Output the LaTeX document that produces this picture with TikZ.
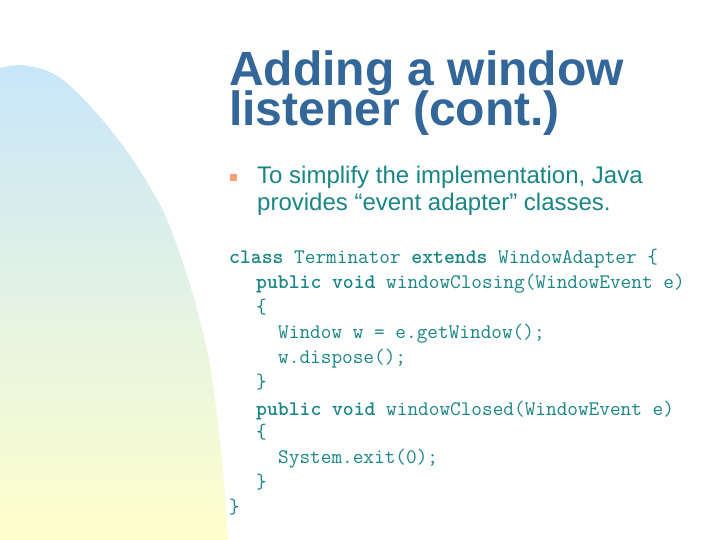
\documentclass[tikz,border=0pt]{standalone}
\usepackage{fontspec}
\setmainfont{Liberation Sans}
\definecolor{titleblue}{HTML}{336699}
\definecolor{bodyteal}{HTML}{1A8585}
\definecolor{bulletorange}{HTML}{F4A07A}
\definecolor{topblue}{HTML}{C8E6FA}
\definecolor{midcyan}{HTML}{DCF0F0}
\definecolor{botyellow}{HTML}{FFFFCC}
\begin{document}
\begin{tikzpicture}[x=1pt,y=-1pt,
  titletext/.style={anchor=base west,inner sep=0pt,text=titleblue,font=\fontsize{48}{40}\selectfont\bfseries},
  bodytext/.style={anchor=base west,inner sep=0pt,text=bodyteal,font=\fontsize{24}{27}\selectfont},
  codetext/.style={anchor=base west,inner sep=0pt,text=bodyteal,font=\fontsize{20.7}{25}\ttfamily},
  bulletbox/.style={fill=bulletorange,draw=none,minimum size=7pt,inner sep=0pt}]
\useasboundingbox (0,0) rectangle (720,540);
\fill[white] (0,0) rectangle (720,540);
% gradient backdrop
\shade[top color=topblue,middle color=midcyan,bottom color=botyellow,draw=none]
  plot[smooth] coordinates {(0,68) (20,65) (45,70) (67,83) (100,117) (133,160) (165,215) (190,285) (209,360) (221,450) (228,540)}
  -- (0,540) -- cycle;
% title
\node[titletext] (t1) at (229,86) {Adding a window};
\node[titletext] (t2) at (229,126) {listener (cont.)};
% bullet
\node[bulletbox] (b1) at (233.5,178) {};
\node[bodytext] (l1) at (257,184) {To simplify the implementation, Java};
\node[bodytext] (l2) at (257,211) {provides “event adapter” classes.};
% code
\node[codetext] (c1) at (229,263) {\textbf{class} Terminator \textbf{extends} WindowAdapter \{};
\node[codetext] (c2) at (256,288) {\textbf{public} \textbf{void} windowClosing(WindowEvent e)};
\node[codetext] (c3) at (256,313) {\{};
\node[codetext] (c4) at (278,338) {Window w = e.getWindow();};
\node[codetext] (c5) at (278,363) {w.dispose();};
\node[codetext] (c6) at (256,388) {\}};
\node[codetext] (c7) at (256,415) {\textbf{public} \textbf{void} windowClosed(WindowEvent e)};
\node[codetext] (c8) at (256,438) {\{};
\node[codetext] (c9) at (278,463) {System.exit(0);};
\node[codetext] (c10) at (256,488) {\}};
\node[codetext] (c11) at (229,513) {\}};
\end{tikzpicture}
\end{document}
